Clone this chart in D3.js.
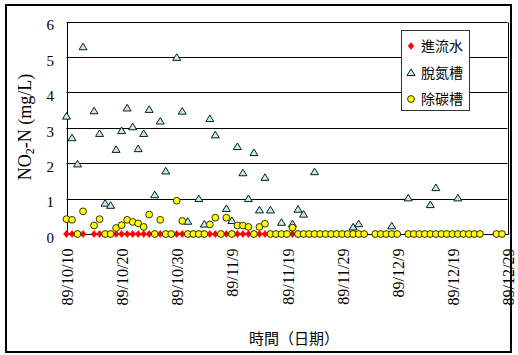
<!DOCTYPE html>
<html>
<head>
<meta charset="utf-8">
<script src="https://cdn.jsdelivr.net/npm/d3@7"></script>
<style>
  html, body { margin: 0; padding: 0; background: #fff; }
  svg { display: block; }
</style>
</head>
<body>
<svg id="chart" width="518" height="355"></svg>
<script>
// Sampling dates (ROC calendar, year 89 = 2000)
const sampleDates = [
  "89/10/10","89/10/11","89/10/12","89/10/13","89/10/15","89/10/16","89/10/17","89/10/18",
  "89/10/19","89/10/20","89/10/21","89/10/22","89/10/23","89/10/24","89/10/25","89/10/26",
  "89/10/27","89/10/28","89/10/29","89/10/30","89/10/31","89/11/1","89/11/2","89/11/3",
  "89/11/4","89/11/5","89/11/6","89/11/7","89/11/8","89/11/9","89/11/10","89/11/11",
  "89/11/12","89/11/13","89/11/14","89/11/15","89/11/16","89/11/17","89/11/18","89/11/19",
  "89/11/20","89/11/21","89/11/22","89/11/23","89/11/24","89/11/25","89/11/26","89/11/27",
  "89/11/28","89/11/29","89/11/30","89/12/1","89/12/2","89/12/3","89/12/5","89/12/6",
  "89/12/7","89/12/8","89/12/9","89/12/11","89/12/12","89/12/13","89/12/14","89/12/15",
  "89/12/16","89/12/17","89/12/18","89/12/19","89/12/20","89/12/21","89/12/22","89/12/23",
  "89/12/24","89/12/27","89/12/28"
];

// 進流水 NO2-N (mg/L)
const influent = [
  0,0,0,0,0,0,0,0, 0,0,0,0,0,0,0,0, 0,0,0,0,0,0,0,0, 0,0,0,0,0,0,0,0,
  0,0,0,0,0,0,0,0, 0,0,0,0,0,0,0,0, 0,0,0,0,0,0,0,0, 0,0,0,0,0,0,0,0,
  0,0,0,0,0,0,0,0, 0,0,0
];

// 脫氮槽 NO2-N (mg/L); null = not shown
const denitrify = [
  3.33,2.72,1.98,5.29,3.48,2.84,0.87,0.81, 2.39,2.92,3.56,3.03,2.41,2.84,3.52,1.11,
  3.19,1.78,null,4.99,3.47,0.36,null,1.00, 0.28,3.26,2.80,null,0.72,0.38,2.47,1.73,
  1.00,2.30,0.68,1.60,0.68,null,0.33,null, 0.29,0.70,0.56,null,1.76,null,null,null,
  null,null,null,0.20,0.29,null,null,null, null,0.23,null,1.02,null,null,null,0.83,
  1.31,null,null,null,1.02,null,null,null, null,null,null
];

// 除碳槽 NO2-N (mg/L)
const decarbon = [
  0.42,0.40,0,0.64,0.24,0.42,0,0, 0.17,0.25,0.40,0.34,0.30,0.20,0.55,0,
  0.40,0,0,0.94,0.37,0,0,0, 0,0.27,0.46,0,0.46,0,0.24,0.24,
  0.20,0,0.20,0.29,0,0,0,0, 0.18,0,0,0,0,0,0,0, 0,0,0,0,0,0,0,0,
  0,0,0,0,0,0,0,0, 0,0,0,0,0,0,0,0, 0,0,0
];

const xTickLabels = ["89/10/10","89/10/20","89/10/30","89/11/9","89/11/19","89/11/29","89/12/9","89/12/19","89/12/29"];
const yTickValues = [0, 1, 2, 3, 4, 5, 6];

const seriesNames = ["進流水", "脫氮槽", "除碳槽"];

// ROC date string -> JS Date
function rocDate(s) {
  const [y, m, d] = s.split("/").map(Number);
  return new Date(y + 1911, m - 1, d);
}

const svg = d3.select("#chart");
const serif = "'Liberation Serif', 'Times New Roman', serif";
const cjk = "'Noto Sans CJK TC', 'Noto Sans CJK SC', sans-serif";

const plot = { left: 66.5, right: 507.5, top: 21.6, bottom: 234 };

const x = d3.scaleTime()
  .domain([rocDate(xTickLabels[0]), rocDate(xTickLabels[xTickLabels.length - 1])])
  .range([plot.left, plot.right]);
const y = d3.scaleLinear().domain([0, 6]).range([plot.bottom, plot.top]);

// outer frame
svg.append("rect")
  .attr("x", 6).attr("y", 5).attr("width", 505).attr("height", 347)
  .attr("fill", "#fff").attr("stroke", "#000").attr("stroke-width", 2);

// grid lines
svg.append("g")
  .selectAll("line")
  .data(yTickValues.filter(v => v > 0))
  .join("line")
  .attr("x1", plot.left).attr("x2", plot.right)
  .attr("y1", d => Math.round(y(d)) + 0.5).attr("y2", d => Math.round(y(d)) + 0.5)
  .attr("stroke", "#000").attr("stroke-width", 1);

// right border of the plot area
svg.append("line")
  .attr("x1", Math.round(plot.right) + 0.5).attr("x2", Math.round(plot.right) + 0.5)
  .attr("y1", Math.round(y(6)) + 0.5).attr("y2", Math.round(y(0)) + 0.5)
  .attr("stroke", "#000");

// y axis
const yAxis = d3.axisLeft(y).tickValues(yTickValues).tickFormat(d3.format("d"))
  .tickSize(0).tickPadding(0);
const gy = svg.append("g")
  .attr("transform", `translate(${Math.round(plot.left) + 0.5},0)`)
  .call(yAxis);
gy.select(".domain").attr("stroke", "#000").attr("d", `M0,${Math.round(y(6)) + 0.5}V${Math.round(y(0)) + 0.5}`);
gy.selectAll(".tick text")
  .attr("x", -13.5)
  .attr("dy", "0.35em")
  .attr("transform", "translate(0,3)")
  .attr("font-family", serif).attr("font-size", 15).attr("fill", "#000");

// x axis
const xAxis = d3.axisBottom(x)
  .tickValues(xTickLabels.map(rocDate))
  .tickFormat((d, i) => xTickLabels[i])
  .tickSize(0).tickPadding(0);
const gx = svg.append("g")
  .attr("transform", `translate(0,${Math.round(plot.bottom) + 0.5})`)
  .call(xAxis);
gx.select(".domain").attr("stroke", "#000")
  .attr("d", `M${Math.round(plot.left) + 0.5},0H${Math.round(plot.right) + 0.5}`);
gx.selectAll(".tick text")
  .attr("y", 0).attr("dy", 0)
  .attr("text-anchor", "end")
  .attr("transform", "translate(6,14) rotate(-90)")
  .attr("font-family", serif).attr("font-size", 16).attr("fill", "#000");

// axis titles
const yTitle = svg.append("text")
  .attr("transform", "translate(31,127) rotate(-90)")
  .attr("text-anchor", "middle")
  .attr("font-family", serif).attr("font-size", 18).attr("fill", "#000");
yTitle.append("tspan").text("NO");
yTitle.append("tspan").attr("font-size", 12).attr("dy", 3).text("2");
yTitle.append("tspan").attr("dy", -3).text("-N (mg/L)");

svg.append("text")
  .attr("x", 294).attr("y", 344)
  .attr("text-anchor", "middle")
  .attr("font-family", cjk).attr("font-size", 15).attr("fill", "#000")
  .text("時間（日期）");

// markers
const diamond = "M0,-3.6L3,0L0,3.6L-3,0Z";
const triangle = "M0,-3.6L4,3L-4,3Z";

const rows = sampleDates.map((s, i) => ({
  date: rocDate(s),
  influent: influent[i],
  denitrify: denitrify[i],
  decarbon: decarbon[i]
}));

const marks = svg.append("g");

marks.append("g").selectAll("path")
  .data(rows.filter(r => r.influent != null))
  .join("path")
  .attr("d", diamond)
  .attr("transform", r => `translate(${x(r.date)},${y(r.influent)})`)
  .attr("fill", "#ff0000").attr("stroke", "#ff0000").attr("stroke-width", 0.5);

marks.append("g").selectAll("path")
  .data(rows.filter(r => r.denitrify != null))
  .join("path")
  .attr("d", triangle)
  .attr("transform", r => `translate(${x(r.date)},${y(r.denitrify)})`)
  .attr("fill", "#bdeef3").attr("stroke", "#000").attr("stroke-width", 0.9);

marks.append("g").selectAll("circle")
  .data(rows.filter(r => r.decarbon != null))
  .join("circle")
  .attr("cx", r => x(r.date)).attr("cy", r => y(r.decarbon)).attr("r", 3.4)
  .attr("fill", "#ffff00").attr("stroke", "#000").attr("stroke-width", 0.8);

// legend
const legend = svg.append("g");
legend.append("rect")
  .attr("x", 401.5).attr("y", 30.5).attr("width", 68).attr("height", 80)
  .attr("fill", "#fff").attr("stroke", "#333").attr("stroke-width", 1);
const legendY = [46, 72.5, 99];
const legendMark = [
  g => g.append("path").attr("d", diamond).attr("fill", "#ff0000").attr("stroke", "#ff0000").attr("stroke-width", 0.5),
  g => g.append("path").attr("d", triangle).attr("fill", "#bdeef3").attr("stroke", "#000").attr("stroke-width", 0.9),
  g => g.append("circle").attr("r", 3.4).attr("fill", "#ffff00").attr("stroke", "#000").attr("stroke-width", 0.8)
];
seriesNames.forEach((name, i) => {
  const g = legend.append("g").attr("transform", `translate(411,${legendY[i]})`);
  legendMark[i](g);
  legend.append("text")
    .attr("x", 421).attr("y", legendY[i]).attr("dy", "0.36em")
    .attr("font-family", cjk).attr("font-size", 14).attr("fill", "#000")
    .text(name);
});
</script>
</body>
</html>
